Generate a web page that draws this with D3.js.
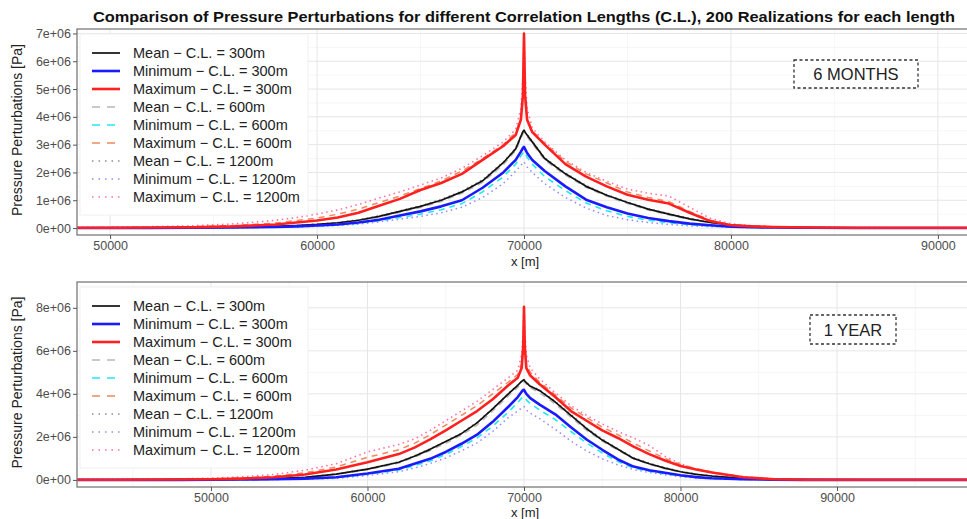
<!DOCTYPE html>
<html>
<head>
<meta charset="utf-8">
<script src="https://cdnjs.cloudflare.com/ajax/libs/d3/7.8.5/d3.min.js"></script>
<style>
    body { margin: 0; background: #fff; }
    svg { display: block; font-family: "Liberation Sans", Arial, sans-serif; }
</style>
</head>
<body>
<div class="container"></div>
<script>
const width = 967,
    height = 519;

const chartTitle = 'Comparison of Pressure Perturbations for different Correlation Lengths (C.L.), 200 Realizations for each length';

const seriesNames = [
    'Mean − C.L. = 300m', 'Minimum − C.L. = 300m', 'Maximum − C.L. = 300m',
    'Mean − C.L. = 600m', 'Minimum − C.L. = 600m', 'Maximum − C.L. = 600m',
    'Mean − C.L. = 1200m', 'Minimum − C.L. = 1200m', 'Maximum − C.L. = 1200m'
];

// ---- 6 months (values in 1e6 Pa) ----
const xSixMonths = [48400, 50000, 52000, 54000, 56000, 58000, 59000, 60000, 61000, 62000, 63000, 64000, 65000, 66000, 67000, 68000, 69000, 69600, 69850, 69950, 70000, 70050, 70150, 70400, 71000, 72000, 73000, 74000, 75000, 76000, 77000, 78000, 79000, 80000, 81000, 82000, 84000, 86000, 88000, 90000, 91600];
const mean300SixMonths = [0, 0, 0.01, 0.02, 0.03, 0.06, 0.09, 0.13, 0.19, 0.28, 0.42, 0.6, 0.78, 1.0, 1.3, 1.7, 2.35, 2.85, 3.3, 3.47, 3.52, 3.45, 3.35, 3.1, 2.5, 1.95, 1.5, 1.18, 0.92, 0.68, 0.5, 0.33, 0.2, 0.11, 0.06, 0.03, 0.01, 0, 0, 0, 0];
const min300SixMonths = [0, 0, 0, 0.01, 0.02, 0.04, 0.06, 0.09, 0.13, 0.2, 0.3, 0.45, 0.6, 0.78, 1.0, 1.45, 2.0, 2.45, 2.75, 2.88, 2.92, 2.85, 2.7, 2.45, 2.05, 1.5, 1.02, 0.75, 0.52, 0.36, 0.25, 0.16, 0.1, 0.05, 0.03, 0.02, 0.01, 0, 0, 0, 0];
const max300SixMonths = [0.01, 0.01, 0.02, 0.03, 0.06, 0.13, 0.2, 0.27, 0.38, 0.55, 0.8, 1.05, 1.37, 1.62, 1.95, 2.45, 2.95, 3.35, 3.9, 4.8, 7.0, 4.8, 3.9, 3.45, 3.0, 2.3, 1.85, 1.5, 1.2, 1.02, 0.88, 0.55, 0.25, 0.1, 0.06, 0.04, 0.02, 0.01, 0.01, 0.01, 0.01];
const mean600SixMonths = [0, 0, 0.01, 0.02, 0.03, 0.05, 0.08, 0.12, 0.18, 0.26, 0.39, 0.56, 0.74, 0.95, 1.25, 1.64, 2.28, 2.78, 3.22, 3.4, 3.45, 3.38, 3.28, 3.03, 2.44, 1.9, 1.46, 1.14, 0.88, 0.65, 0.47, 0.31, 0.19, 0.1, 0.05, 0.03, 0.01, 0, 0, 0, 0];
const min600SixMonths = [0, 0, 0, 0.01, 0.02, 0.03, 0.05, 0.07, 0.11, 0.17, 0.26, 0.38, 0.5, 0.66, 0.88, 1.3, 1.85, 2.3, 2.6, 2.7, 2.75, 2.68, 2.55, 2.3, 1.85, 1.35, 0.9, 0.62, 0.42, 0.28, 0.19, 0.12, 0.07, 0.04, 0.02, 0.01, 0.01, 0, 0, 0, 0];
const max600SixMonths = [0.01, 0.02, 0.03, 0.05, 0.09, 0.18, 0.27, 0.36, 0.5, 0.68, 0.92, 1.15, 1.42, 1.7, 2.05, 2.5, 3.0, 3.45, 3.95, 4.6, 6.2, 4.6, 3.95, 3.5, 3.05, 2.4, 1.95, 1.62, 1.3, 1.1, 0.95, 0.6, 0.28, 0.12, 0.07, 0.04, 0.02, 0.01, 0.01, 0.01, 0.01];
const mean1200SixMonths = [0, 0, 0.01, 0.02, 0.03, 0.06, 0.1, 0.14, 0.2, 0.3, 0.44, 0.62, 0.8, 1.03, 1.33, 1.74, 2.38, 2.88, 3.32, 3.48, 3.53, 3.47, 3.37, 3.12, 2.53, 1.98, 1.53, 1.2, 0.94, 0.7, 0.52, 0.35, 0.21, 0.12, 0.06, 0.03, 0.01, 0, 0, 0, 0];
const min1200SixMonths = [0, 0, 0, 0.01, 0.01, 0.03, 0.04, 0.06, 0.09, 0.14, 0.22, 0.32, 0.42, 0.55, 0.75, 1.1, 1.6, 2.05, 2.25, 2.35, 2.38, 2.32, 2.2, 2.0, 1.6, 1.1, 0.72, 0.45, 0.3, 0.2, 0.13, 0.08, 0.05, 0.03, 0.02, 0.01, 0.01, 0, 0, 0, 0];
const max1200SixMonths = [0.02, 0.03, 0.05, 0.08, 0.15, 0.28, 0.38, 0.5, 0.65, 0.85, 1.08, 1.3, 1.55, 1.8, 2.15, 2.6, 3.1, 3.55, 4.3, 5.5, 7.0, 5.5, 4.3, 3.6, 3.1, 2.45, 2.0, 1.68, 1.4, 1.25, 1.15, 0.75, 0.35, 0.15, 0.08, 0.05, 0.03, 0.02, 0.01, 0.01, 0.01];

// ---- 1 year (values in 1e6 Pa) ----
const xOneYear = [41440, 44000, 48000, 50000, 52000, 54000, 56000, 58000, 60000, 62000, 63000, 64000, 65000, 66000, 67000, 68000, 69000, 69600, 69850, 69950, 70000, 70050, 70150, 70400, 71000, 72000, 73000, 74000, 75000, 76000, 77000, 78000, 79000, 80000, 81000, 82000, 84000, 86000, 88000, 92000, 98560];
const mean300OneYear = [0, 0, 0.01, 0.02, 0.03, 0.06, 0.12, 0.27, 0.5, 0.82, 1.1, 1.42, 1.78, 2.15, 2.65, 3.3, 4.0, 4.4, 4.58, 4.64, 4.65, 4.6, 4.52, 4.35, 4.15, 3.62, 3.0, 2.38, 1.85, 1.42, 1.0, 0.75, 0.55, 0.38, 0.26, 0.18, 0.07, 0.02, 0.01, 0, 0];
const min300OneYear = [0, 0, 0, 0.01, 0.02, 0.03, 0.06, 0.12, 0.3, 0.52, 0.75, 0.98, 1.3, 1.68, 2.1, 2.7, 3.4, 3.85, 4.1, 4.18, 4.19, 4.12, 4.0, 3.8, 3.5, 3.05, 2.45, 1.88, 1.4, 0.95, 0.62, 0.45, 0.33, 0.22, 0.13, 0.08, 0.03, 0.01, 0, 0, 0];
const max300OneYear = [0.01, 0.01, 0.02, 0.03, 0.06, 0.12, 0.25, 0.48, 0.82, 1.2, 1.5, 1.88, 2.3, 2.75, 3.2, 3.75, 4.4, 4.75, 5.2, 6.2, 8.05, 6.2, 5.2, 4.85, 4.45, 3.85, 3.2, 2.75, 2.3, 1.95, 1.55, 1.2, 0.9, 0.65, 0.48, 0.34, 0.12, 0.03, 0.01, 0.01, 0.01];
const mean600OneYear = [0, 0, 0.01, 0.02, 0.03, 0.06, 0.11, 0.25, 0.47, 0.78, 1.05, 1.36, 1.7, 2.08, 2.55, 3.2, 3.9, 4.3, 4.5, 4.56, 4.58, 4.53, 4.45, 4.28, 4.05, 3.52, 2.92, 2.3, 1.8, 1.38, 0.98, 0.72, 0.52, 0.36, 0.25, 0.17, 0.06, 0.02, 0.01, 0, 0];
const min600OneYear = [0, 0, 0, 0.01, 0.01, 0.02, 0.05, 0.1, 0.26, 0.46, 0.66, 0.88, 1.18, 1.55, 1.95, 2.5, 3.15, 3.6, 3.8, 3.86, 3.87, 3.82, 3.72, 3.55, 3.25, 2.8, 2.25, 1.72, 1.25, 0.85, 0.55, 0.4, 0.28, 0.18, 0.11, 0.06, 0.02, 0.01, 0, 0, 0];
const max600OneYear = [0.01, 0.01, 0.03, 0.05, 0.09, 0.17, 0.33, 0.6, 1.05, 1.4, 1.7, 2.1, 2.55, 3.0, 3.45, 4.0, 4.55, 4.9, 5.4, 6.4, 7.2, 6.4, 5.4, 5.0, 4.55, 3.95, 3.35, 2.9, 2.45, 2.1, 1.7, 1.35, 1.0, 0.72, 0.52, 0.37, 0.14, 0.04, 0.01, 0.01, 0.01];
const mean1200OneYear = [0, 0, 0.01, 0.02, 0.04, 0.07, 0.13, 0.28, 0.52, 0.84, 1.12, 1.45, 1.8, 2.18, 2.68, 3.32, 4.02, 4.42, 4.6, 4.66, 4.68, 4.62, 4.54, 4.38, 4.18, 3.65, 3.05, 2.42, 1.9, 1.45, 1.04, 0.78, 0.57, 0.4, 0.28, 0.19, 0.08, 0.03, 0.01, 0, 0];
const min1200OneYear = [0, 0, 0, 0, 0.01, 0.02, 0.04, 0.07, 0.2, 0.38, 0.55, 0.76, 1.02, 1.35, 1.72, 2.25, 2.9, 3.2, 3.35, 3.4, 3.41, 3.36, 3.25, 3.1, 2.85, 2.35, 1.8, 1.35, 0.98, 0.7, 0.48, 0.35, 0.24, 0.15, 0.09, 0.05, 0.02, 0.01, 0, 0, 0];
const max1200OneYear = [0.02, 0.03, 0.05, 0.08, 0.14, 0.25, 0.45, 0.75, 1.3, 1.65, 1.9, 2.3, 2.75, 3.2, 3.65, 4.2, 4.75, 5.1, 5.8, 7.0, 8.05, 7.0, 5.8, 5.2, 4.7, 4.05, 3.45, 3.0, 2.6, 2.25, 1.95, 1.6, 1.1, 0.75, 0.5, 0.36, 0.15, 0.05, 0.02, 0.01, 0.01];

// ticks
const xTicks = [50000, 60000, 70000, 80000, 90000];
const yTicksSixMonths = [0, 1, 2, 3, 4, 5, 6, 7];
const yTicksOneYear = [0, 2, 4, 6, 8];

// line styles, legend order
const styles = [
    { color: '#111111', width: 1.7, dash: null },
    { color: '#1a1aff', width: 2.6, dash: null },
    { color: '#ff2020', width: 2.6, dash: null },
    { color: '#b8b8b8', width: 1.4, dash: '6,5' },
    { color: '#22e8f0', width: 1.6, dash: '6,5' },
    { color: '#ee8a5c', width: 1.5, dash: '6,5' },
    { color: '#8c8c8c', width: 1.5, dash: '1.5,3.5' },
    { color: '#9488ff', width: 1.5, dash: '1.5,3.5' },
    { color: '#ff6fa5', width: 1.6, dash: '1.5,3.5' }
];

const panels = [
    {
        id: 'six',
        label: '6 MONTHS',
        x: xSixMonths,
        series: [mean300SixMonths, min300SixMonths, max300SixMonths, mean600SixMonths, min600SixMonths, max600SixMonths, mean1200SixMonths, min1200SixMonths, max1200SixMonths],
        xDomain: [48400, 91600],
        yDomain: [-0.25, 7.16],
        yTicks: yTicksSixMonths,
        top: 29,
        bottom: 235,
        xLabelY: 266,
        labelBox: { cx: 856, y: 60, w: 124, h: 28 }
    },
    {
        id: 'year',
        label: '1 YEAR',
        x: xOneYear,
        series: [mean300OneYear, min300OneYear, max300OneYear, mean600OneYear, min600OneYear, max600OneYear, mean1200OneYear, min1200OneYear, max1200OneYear],
        xDomain: [41440, 98560],
        yDomain: [-0.33, 9.2],
        yTicks: yTicksOneYear,
        top: 282,
        bottom: 487,
        xLabelY: 517,
        labelBox: { cx: 853, y: 315, w: 86, h: 29 }
    }
];

const left = 77,
    right = 971;

const svg = d3.select('.container')
    .append('svg')
    .attr('width', width)
    .attr('height', height);

svg.append('text')
    .attr('x', 93)
    .attr('y', 22)
    .attr('font-weight', 'bold')
    .attr('font-size', 15)
    .attr('fill', '#111')
    .attr('textLength', 862)
    .attr('lengthAdjust', 'spacingAndGlyphs')
    .text(chartTitle);

const fmt = d => d === 0 ? '0e+00' : d + 'e+06';

panels.forEach(p => {
    const x = d3.scaleLinear().domain(p.xDomain).range([left, right]);
    const y = d3.scaleLinear().domain(p.yDomain).range([p.bottom, p.top]);

    const g = svg.append('g');

    // grid: minor first, then major
    const minorY = p.yTicks.slice(0, -1).map((d, i) => (d + p.yTicks[i + 1]) / 2)
        .concat([p.yTicks[p.yTicks.length - 1] + (p.yTicks[1] - p.yTicks[0]) / 2])
        .filter(d => d < p.yDomain[1]);
    const minorX = [45000, 55000, 65000, 75000, 85000, 95000].filter(d => d > p.xDomain[0] && d < p.xDomain[1]);

    g.selectAll('.minor-y').data(minorY).enter().append('line')
        .attr('x1', left).attr('x2', right)
        .attr('y1', d => y(d)).attr('y2', d => y(d))
        .attr('stroke', '#f4f4f4').attr('stroke-width', 0.8);
    g.selectAll('.minor-x').data(minorX).enter().append('line')
        .attr('y1', p.top).attr('y2', p.bottom)
        .attr('x1', d => x(d)).attr('x2', d => x(d))
        .attr('stroke', '#f4f4f4').attr('stroke-width', 0.8);
    g.selectAll('.major-y').data(p.yTicks).enter().append('line')
        .attr('x1', left).attr('x2', right)
        .attr('y1', d => y(d)).attr('y2', d => y(d))
        .attr('stroke', '#e6e6e6').attr('stroke-width', 1);
    g.selectAll('.major-x').data(xTicks).enter().append('line')
        .attr('y1', p.top).attr('y2', p.bottom)
        .attr('x1', d => x(d)).attr('x2', d => x(d))
        .attr('stroke', '#e6e6e6').attr('stroke-width', 1);

    // series
    g.append('clipPath').attr('id', 'clip-' + p.id)
        .append('rect')
        .attr('x', left).attr('y', p.top)
        .attr('width', right - left).attr('height', p.bottom - p.top);

    const line = d3.line()
        .x((d, i) => x(p.x[i]))
        .y(d => y(d));

    const drawOrder = [6, 7, 8, 3, 4, 5, 0, 1, 2];
    const lines = g.append('g').attr('clip-path', `url(#clip-${p.id})`);
    drawOrder.forEach(k => {
        lines.append('path')
            .datum(p.series[k])
            .attr('d', line)
            .attr('fill', 'none')
            .attr('stroke', styles[k].color)
            .attr('stroke-width', styles[k].width)
            .attr('stroke-dasharray', styles[k].dash)
            .attr('stroke-linejoin', 'round');
    });

    // border
    g.append('rect')
        .attr('x', left).attr('y', p.top)
        .attr('width', right - left).attr('height', p.bottom - p.top)
        .attr('fill', 'none')
        .attr('stroke', '#7a7a7a')
        .attr('stroke-width', 1.3);

    // axes
    const yAxis = g.append('g')
        .attr('transform', `translate(${left},0)`)
        .call(d3.axisLeft(y).tickValues(p.yTicks).tickFormat(fmt).tickSize(4).tickPadding(2));
    const xAxis = g.append('g')
        .attr('transform', `translate(0,${p.bottom})`)
        .call(d3.axisBottom(x).tickValues(xTicks).tickFormat(d3.format('d')).tickSize(4).tickPadding(2));
    [yAxis, xAxis].forEach(a => {
        a.select('.domain').remove();
        a.selectAll('.tick line').attr('stroke', '#555');
        a.selectAll('.tick text')
            .attr('fill', '#4d4d4d')
            .attr('font-size', 12.5)
            .attr('font-family', '"Liberation Sans", Arial, sans-serif');
    });

    g.append('text')
        .attr('x', 525)
        .attr('y', p.xLabelY)
        .attr('text-anchor', 'middle')
        .attr('font-size', 13)
        .attr('fill', '#222')
        .text('x [m]');

    g.append('text')
        .attr('transform', `translate(22,${(p.top + p.bottom) / 2 - 2}) rotate(-90)`)
        .attr('text-anchor', 'middle')
        .attr('font-size', 14)
        .attr('fill', '#222')
        .text('Pressure Perturbations [Pa]');

    // legend
    const legend = g.append('g').attr('id', 'legend-' + p.id);
    legend.append('rect')
        .attr('x', 80).attr('y', p.top + 5)
        .attr('width', 228).attr('height', 181)
        .attr('fill', '#fff')
        .attr('stroke', '#f0f0f0');

    const legendItem = legend.selectAll('.legend-item')
        .data(seriesNames)
        .enter()
        .append('g')
        .attr('transform', (d, i) => `translate(0,${p.top + 24 + i * 18})`);

    legendItem.append('line')
        .attr('x1', 92).attr('x2', 120)
        .attr('stroke', (d, i) => styles[i].color)
        .attr('stroke-width', (d, i) => styles[i].width)
        .attr('stroke-dasharray', (d, i) => styles[i].dash ? (styles[i].dash === '6,5' ? '8,7' : '1.5,5') : null);

    legendItem.append('text')
        .attr('x', 133)
        .attr('y', 5)
        .attr('font-size', 14.5)
        .attr('fill', '#222')
        .text(d => d);

    // period label
    const b = p.labelBox;
    g.append('rect')
        .attr('x', b.cx - b.w / 2).attr('y', b.y)
        .attr('width', b.w).attr('height', b.h)
        .attr('fill', '#fff')
        .attr('stroke', '#333')
        .attr('stroke-width', 1.3)
        .attr('stroke-dasharray', '3,2.5');
    g.append('text')
        .attr('x', b.cx).attr('y', b.y + b.h / 2 + 6)
        .attr('text-anchor', 'middle')
        .attr('font-size', 16.5)
        .attr('fill', '#222')
        .text(p.label);
});
</script>
</body>
</html>
